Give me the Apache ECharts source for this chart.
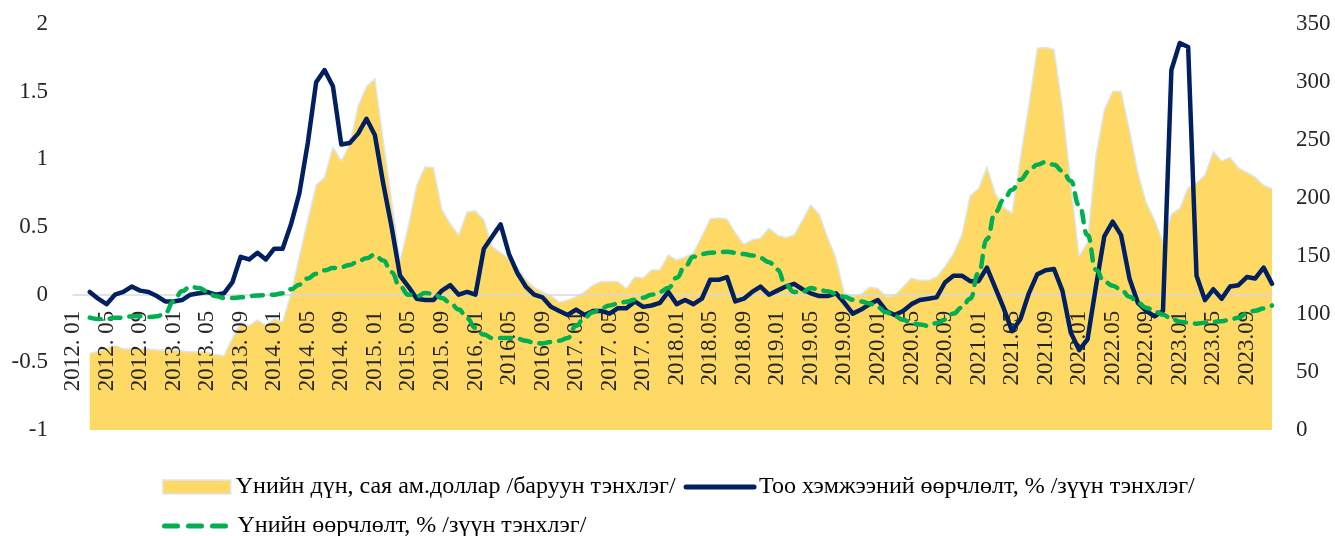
<!DOCTYPE html>
<html>
<head>
<meta charset="utf-8">
<script src="https://cdn.jsdelivr.net/npm/echarts@6/dist/echarts.min.js"></script>
<style>html,body{margin:0;padding:0;background:#fff}#c{width:1335px;height:536px}</style>
</head>
<body>
<div id="c"></div>
<script>
var categories = [
'2012. 01','2012. 02','2012. 03','2012. 04','2012. 05','2012. 06','2012. 07','2012. 08','2012. 09','2012. 10','2012. 11','2012. 12',
'2013. 01','2013. 02','2013. 03','2013. 04','2013. 05','2013. 06','2013. 07','2013. 08','2013. 09','2013. 10','2013. 11','2013. 12',
'2014. 01','2014. 02','2014. 03','2014. 04','2014. 05','2014. 06','2014. 07','2014. 08','2014. 09','2014. 10','2014. 11','2014. 12',
'2015. 01','2015. 02','2015. 03','2015. 04','2015. 05','2015. 06','2015. 07','2015. 08','2015. 09','2015. 10','2015. 11','2015. 12',
'2016. 01','2016. 02','2016. 03','2016. 04','2016.05','2016. 06','2016. 07','2016. 08','2016. 09','2016. 10','2016. 11','2016. 12',
'2017. 01','2017. 02','2017. 03','2017. 04','2017. 05','2017. 06','2017. 07','2017. 08','2017. 09','2017. 10','2017. 11','2017. 12',
'2018.01','2018.02','2018.03','2018.04','2018.05','2018.06','2018.07','2018.08','2018.09','2018.10','2018.11','2018.12',
'2019.01','2019.02','2019.03','2019.04','2019.05','2019.06','2019.07','2019.08','2019.09','2019.10','2019.11','2019.12',
'2020.01','2020.02','2020.03','2020.04','2020.05','2020.06','2020.07','2020.08','2020.09','2020.10','2020.11','2020.12',
'2021.01','2021.02','2021.03','2021.04','2021.05','2021.06','2021.07','2021.08','2021.09','2021.10','2021.11','2021.12',
'2022.01','2022.02','2022.03','2022.04','2022.05','2022.06','2022.07','2022.08','2022.09','2022.10','2022.11','2022.12',
'2023.01','2023.02','2023.03','2023.04','2023.05','2023.06','2023.07','2023.08','2023.09','2023.10','2023.11','2023.12'
];

// Үнийн дүн, сая ам.доллар (right axis)
var valueUsd = [
null,null,66,68,70,73,70,70,70,70,69,69,
69,68,67.5,67.5,67.5,65,64,79,93,90,95,90.5,
96,93,118,150,181,211,218,244,232,246,279,296,
303,250,198,146,176,211,227,226,190,178,168,188,
189,181,158,153,148,140,130,123,119,116,110,112,
115,119,125,128,128,128,122,132,131,138,138,151,
146.5,149,153,167,182,183,182,170,160,164,165.5,174,
168,166,168,181,194,186,166,148,118,115.5,117,123,
122,115,116,123.5,131,129,129,132,141,152,168,202,
208,227,204,192,187,235,280,329,330,328,279,213,
150,162,237,276,292,292,259,222,196,181,162,186,
191,209,213,220,240,232,235,226,222,218,211,208
];

// Тоо хэмжээний өөрчлөлт, % (left axis)
var volumeChange = [
null,null,0.02,-0.03,-0.07,0.0,0.02,0.06,0.03,0.02,-0.01,-0.05,
-0.05,-0.04,0.0,0.01,0.02,0.0,0.01,0.09,0.28,0.26,0.31,0.26,
0.34,0.34,0.52,0.75,1.12,1.57,1.66,1.54,1.11,1.12,1.19,1.30,
1.18,0.82,0.50,0.14,0.06,-0.03,-0.04,-0.04,0.03,0.07,0.0,0.02,
0.0,0.34,0.43,0.52,0.30,0.16,0.06,0.0,-0.02,-0.09,-0.12,-0.15,
-0.11,-0.15,-0.12,-0.12,-0.14,-0.10,-0.10,-0.05,-0.09,-0.08,-0.06,0.02,
-0.07,-0.04,-0.07,-0.03,0.11,0.11,0.13,-0.05,-0.03,0.02,0.06,0.0,
0.03,0.06,0.08,0.04,0.01,-0.01,-0.01,0.01,-0.06,-0.14,-0.11,-0.07,
-0.04,-0.12,-0.15,-0.12,-0.07,-0.04,-0.03,-0.02,0.09,0.14,0.14,0.10,
0.10,0.20,0.05,-0.10,-0.27,-0.18,0.01,0.15,0.18,0.19,0.03,-0.28,
-0.41,-0.33,0.06,0.43,0.54,0.44,0.12,-0.06,-0.12,-0.16,-0.12,1.66,
1.86,1.83,0.14,-0.04,0.04,-0.03,0.06,0.07,0.13,0.12,0.20,0.08
];

// Үнийн өөрчлөлт, % (left axis)
var priceChange = [
null,null,-0.17,-0.18,-0.18,-0.17,-0.17,-0.16,-0.16,-0.165,-0.16,-0.135,
-0.05,0.025,0.06,0.05,0.025,-0.01,-0.025,-0.025,-0.02,-0.01,-0.007,-0.003,
0.0,0.01,0.04,0.074,0.12,0.155,0.18,0.197,0.204,0.22,0.246,0.27,
0.295,0.253,0.165,0.06,0.0,-0.012,0.012,0.007,-0.025,-0.06,-0.11,-0.175,
-0.245,-0.295,-0.32,-0.32,-0.32,-0.325,-0.34,-0.355,-0.36,-0.35,-0.34,-0.32,
-0.23,-0.17,-0.13,-0.10,-0.08,-0.066,-0.052,-0.037,-0.022,0.0,0.022,0.05,
0.125,0.21,0.28,0.30,0.31,0.314,0.317,0.31,0.30,0.29,0.27,0.24,
0.185,0.074,0.02,0.02,0.05,0.035,0.025,0.007,-0.015,-0.037,-0.05,-0.066,
-0.096,-0.13,-0.16,-0.185,-0.21,-0.22,-0.23,-0.21,-0.185,-0.14,-0.096,-0.03,
0.16,0.41,0.61,0.70,0.775,0.85,0.91,0.96,0.98,0.96,0.915,0.84,
0.66,0.44,0.185,0.096,0.066,0.037,-0.015,-0.06,-0.096,-0.125,-0.148,-0.177,
-0.2,-0.207,-0.214,-0.207,-0.2,-0.196,-0.185,-0.17,-0.14,-0.118,-0.103,-0.08
];

var leftTicks = {min: -1, max: 2, interval: 0.5};
var rightTicks = {min: 0, max: 350, interval: 50};

var names = [
  'Үнийн дүн, сая ам.доллар /баруун тэнхлэг/',
  'Тоо хэмжээний өөрчлөлт, % /зүүн тэнхлэг/',
  'Үнийн өөрчлөлт, % /зүүн тэнхлэг/'
];

var FONT = 'Liberation Serif';
var GRID_TOP = 24, GRID_BOTTOM = 106, H = 536;
var plotH = H - GRID_TOP - GRID_BOTTOM;
// distance from bottom of plot to the zero line of the left axis
var zeroOffset = -plotH * (0 - leftTicks.min) / (leftTicks.max - leftTicks.min);

var chart = echarts.init(document.getElementById('c'), null, {renderer: 'canvas'});
var legendText = {fontFamily: FONT, fontSize: 24, color: '#000'};
var hidden = {color: 'rgba(0,0,0,0)', borderColor: 'rgba(0,0,0,0)', borderWidth: 0, opacity: 0};
chart.setOption({
  animation: false,
  backgroundColor: '#fff',
  grid: {left: 73, right: 63, top: GRID_TOP, bottom: GRID_BOTTOM, containLabel: false},
  legend: [
    {
      data: [
        {name: names[0], icon: 'rect', itemStyle: {color: '#FFD966', borderColor: '#DAE8F5', borderWidth: 1.5}},
        {name: names[1], itemStyle: hidden, lineStyle: {color: '#002060', width: 5, cap: 'round', type: 'solid'}}
      ],
      left: 157, top: 470, itemWidth: 68, itemHeight: 14, itemGap: 8,
      textStyle: legendText, selectedMode: false
    },
    {
      data: [{name: names[2], itemStyle: hidden, lineStyle: {color: '#00B050', width: 5, cap: 'round', type: [13, 11]}}],
      left: 157, top: 509, itemWidth: 68, itemHeight: 14, itemGap: 8,
      textStyle: legendText, selectedMode: false
    }
  ],
  xAxis: {
    type: 'category',
    data: categories,
    boundaryGap: false,
    position: 'bottom',
    offset: zeroOffset,
    z: 2,
    axisLine: {show: true, onZero: false, lineStyle: {color: '#D9D9D9', width: 1.5}},
    axisTick: {show: false},
    axisLabel: {
      interval: 3, rotate: 90, margin: 16, hideOverlap: false,
      fontFamily: FONT, fontSize: 23, color: '#262626'
    },
    splitLine: {show: false}
  },
  yAxis: [
    {
      type: 'value', position: 'left',
      min: leftTicks.min, max: leftTicks.max, interval: leftTicks.interval,
      axisLine: {show: false}, axisTick: {show: false}, splitLine: {show: false},
      axisLabel: {margin: 25, fontFamily: FONT, fontSize: 23, color: '#262626'}
    },
    {
      type: 'value', position: 'right',
      min: rightTicks.min, max: rightTicks.max, interval: rightTicks.interval,
      axisLine: {show: false}, axisTick: {show: false}, splitLine: {show: false},
      axisLabel: {margin: 24, fontFamily: FONT, fontSize: 23, color: '#262626'}
    }
  ],
  series: [
    {
      name: names[0], type: 'line', yAxisIndex: 1, data: valueUsd,
      symbol: 'none', smooth: false, z: 1,
      lineStyle: {color: '#DAE8F5', width: 1.5},
      itemStyle: {color: '#FFD966'},
      areaStyle: {color: '#FFD966', opacity: 1}
    },
    {
      name: names[1], type: 'line', yAxisIndex: 0, data: volumeChange,
      symbol: 'none', smooth: false, z: 3,
      lineStyle: {color: '#002060', width: 4.5, join: 'round', cap: 'round'},
      itemStyle: {color: '#002060'}
    },
    {
      name: names[2], type: 'line', yAxisIndex: 0, data: priceChange,
      symbol: 'none', smooth: true, smoothMonotone: 'x', z: 4,
      lineStyle: {color: '#00B050', width: 4.5, type: [11, 9], cap: 'round', join: 'round'},
      itemStyle: {color: '#00B050'}
    }
  ]
});
</script>
</body>
</html>
